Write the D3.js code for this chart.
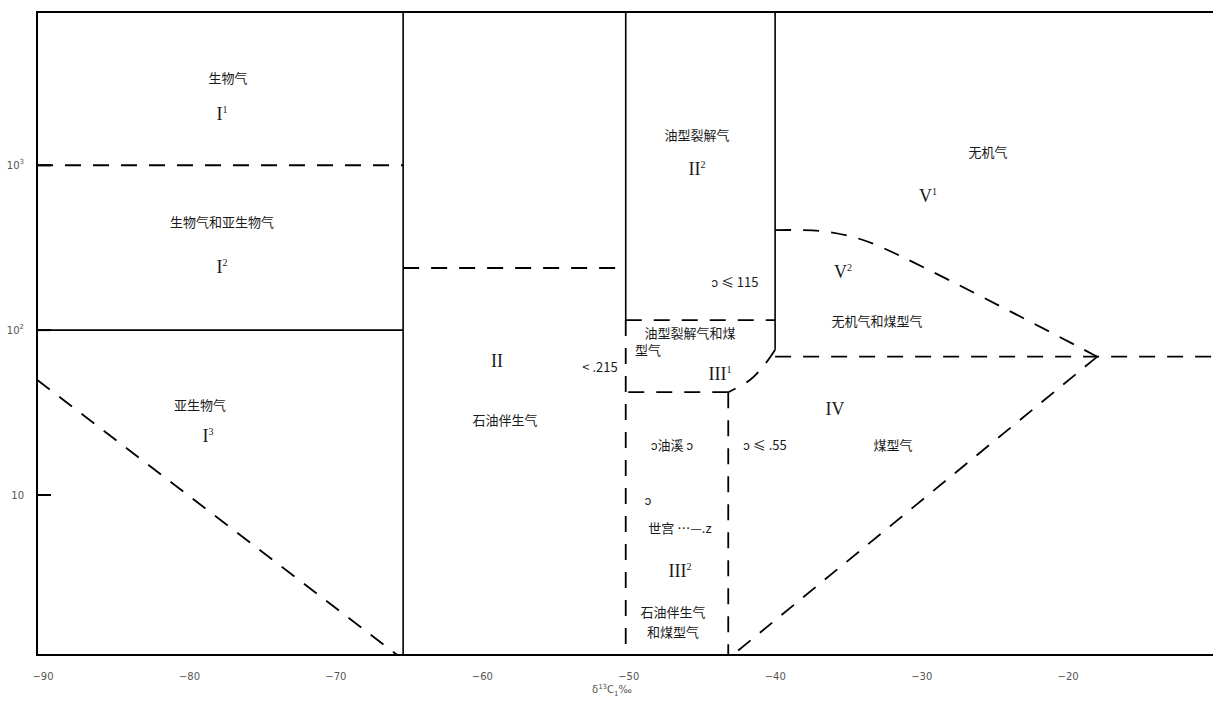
<!DOCTYPE html>
<html>
<head>
<meta charset="utf-8">
<script src="https://cdn.jsdelivr.net/npm/d3@7"></script>
<style>
  body { margin: 0; background: #fff; }
  svg text { fill: #1a1a1a; }
  .cjk { font-family: "Noto Sans CJK SC", sans-serif; font-size: 13px; }
  .roman { font-family: "Liberation Serif", "DejaVu Serif", serif; font-size: 18px; }
  .tick { font-family: "DejaVu Sans", sans-serif; font-size: 10px; fill: #555; }
</style>
</head>
<body>
<div id="graphic"></div>
<script>
// Axis ticks
var xTicks = [-90, -80, -70, -60, -50, -40, -30, -20];
var xTickLabels = ['−90', '−80', '−70', '−60', '−50', '−40', '−30', '−20'];
var yTicks = [1000, 100, 10];
var yTickBase = ['10', '10', '10'];
var yTickExp = ['3', '2', ''];

// Boundary lines [d13C1, C1/(C2+C3)]
var bioTop = [[-90, 1000], [-65, 1000]];
var bioMid = [[-90, 100], [-65, 100]];
var bioDiag = [[-90, 50], [-65.4, 1.07]];
var lineMinus65 = [[-65, 8500], [-65, 1.07]];
var oilAssoc = [[-65, 238], [-49.8, 238]];
var lineMinus50Top = [[-49.8, 8500], [-49.8, 115]];
var lineMinus50Low = [[-49.8, 115], [-49.8, 1.07]];
var crackLow = [[-49.8, 115], [-39.6, 115]];
var lineMinus40 = [[-39.6, 8500], [-39.6, 76]];
var mixCorner = [[-39.6, 76], [-40.3, 62], [-41.3, 50], [-42.8, 42]];
var mixBottom = [[-42.8, 42], [-49.8, 42]];
var mixRight = [[-42.8, 42], [-42.8, 1.07]];
var inorgCurve = [[-39.6, 404], [-36.6, 400], [-34.5, 371], [-32.5, 323], [-17.6, 69]];
var inorgFlat = [[-39.6, 69], [-9.7, 69]];
var coalDiag = [[-17.6, 69], [-42.5, 1.07]];

var solidLines = [bioMid, lineMinus65, lineMinus50Top, lineMinus40];
var dashedLines = [bioTop, bioDiag, oilAssoc, lineMinus50Low, crackLow,
  mixCorner, mixBottom, mixRight, inorgCurve, inorgFlat, coalDiag];

// Region labels [x, y, text, superscript, class]
var regionLabels = [
  [-76.96, 3375, '生物气', '', 'cjk'],
  [-77.37, 2014, 'I', '1', 'roman'],
  [-77.37, 452, '生物气和亚生物气', '', 'cjk'],
  [-77.37, 238, 'I', '2', 'roman'],
  [-78.87, 35, '亚生物气', '', 'cjk'],
  [-78.33, 22.4, 'I', '3', 'roman'],
  [-58.59, 64, 'II', '', 'roman'],
  [-58.05, 28.5, '石油伴生气', '', 'cjk'],
  [-51.56, 59.7, '< .215', '', 'cjk'],
  [-44.93, 1524, '油型裂解气', '', 'cjk'],
  [-44.93, 935, 'II', '2', 'roman'],
  [-42.34, 195, 'ɔ ≤ 115', '', 'cjk'],
  [-45.41, 96, '油型裂解气和煤', '', 'cjk'],
  [-48.28, 75.7, '型气', '', 'cjk'],
  [-43.36, 53.4, 'III', '1', 'roman'],
  [-46.64, 20.1, 'ɔ油溪 ɔ', '', 'cjk'],
  [-40.29, 20.1, 'ɔ ≤ .55', '', 'cjk'],
  [-48.28, 9.3, 'ɔ', '', 'cjk'],
  [-46.1, 6.3, '世宫 ⋯—.z', '', 'cjk'],
  [-46.1, 3.41, 'III', '2', 'roman'],
  [-46.57, 1.95, '石油伴生气', '', 'cjk'],
  [-46.57, 1.47, '和煤型气', '', 'cjk'],
  [-25.06, 1202, '无机气', '', 'cjk'],
  [-29.16, 641, 'V', '1', 'roman'],
  [-34.96, 222, 'V', '2', 'roman'],
  [-32.64, 113.5, '无机气和煤型气', '', 'cjk'],
  [-35.51, 32.7, 'IV', '', 'roman'],
  [-31.55, 20.1, '煤型气', '', 'cjk']
];

var render = function () {
  var width = 1213;
  var height = 701;

  var x = d3.scaleLinear().domain([-90, -9.7]).range([37, 1213]);
  var y = d3.scaleLog().domain([1.07, 8500]).range([655, 12]);

  var svg = d3.select('#graphic').append('svg')
    .attr('width', width)
    .attr('height', height);

  var line = d3.line()
    .x(function (d) { return x(d[0]); })
    .y(function (d) { return y(d[1]); });
  var curve = d3.line()
    .curve(d3.curveCatmullRom)
    .x(function (d) { return x(d[0]); })
    .y(function (d) { return y(d[1]); });

  // Frame
  svg.append('path')
    .attr('d', 'M' + x(-9.7) + ',' + y(8500) + 'H' + x(-90) + 'V' + y(1.07) + 'H' + x(-9.7))
    .attr('fill', 'none')
    .attr('stroke', '#000')
    .attr('stroke-width', 2);

  // Y ticks (inward)
  svg.selectAll('.ytick')
    .data(yTicks)
    .enter().append('line')
    .attr('x1', x(-90))
    .attr('x2', x(-90) + 14)
    .attr('y1', function (d) { return y(d); })
    .attr('y2', function (d) { return y(d); })
    .attr('stroke', '#000')
    .attr('stroke-width', 2);

  var yl = svg.selectAll('.ylab')
    .data(yTicks)
    .enter().append('text')
    .attr('class', 'tick')
    .attr('x', 24)
    .attr('y', function (d) { return y(d) + 4; })
    .attr('text-anchor', 'end');
  yl.append('tspan').text(function (d, i) { return yTickBase[i]; });
  yl.append('tspan')
    .attr('dy', -5)
    .style('font-size', '7px')
    .text(function (d, i) { return yTickExp[i]; });

  // X tick labels
  svg.selectAll('.xlab')
    .data(xTicks)
    .enter().append('text')
    .attr('class', 'tick')
    .attr('x', function (d) { return x(d) + 6; })
    .attr('y', 680)
    .attr('text-anchor', 'middle')
    .text(function (d, i) { return xTickLabels[i]; });

  var ax = svg.append('text')
    .attr('class', 'tick')
    .attr('x', x(-50.74))
    .attr('y', 693)
    .attr('text-anchor', 'middle');
  ax.append('tspan').text('δ');
  ax.append('tspan').attr('dy', -4).style('font-size', '7px').text('13');
  ax.append('tspan').attr('dy', 4).text('C');
  ax.append('tspan').attr('dy', 3).style('font-size', '7px').text('1');
  ax.append('tspan').attr('dy', -3).text('‰');

  // Boundaries
  svg.selectAll('.solid')
    .data(solidLines)
    .enter().append('path')
    .attr('d', line)
    .attr('fill', 'none')
    .attr('stroke', '#000')
    .attr('stroke-width', 1.6);

  svg.selectAll('.dashed')
    .data(dashedLines)
    .enter().append('path')
    .attr('d', function (d) { return d.length > 2 ? curve(d) : line(d); })
    .attr('fill', 'none')
    .attr('stroke', '#000')
    .attr('stroke-width', 1.8)
    .attr('stroke-dasharray', '16,12');

  // Region labels
  var labels = svg.selectAll('.region')
    .data(regionLabels)
    .enter().append('text')
    .attr('class', function (d) { return d[4]; })
    .attr('x', function (d) { return x(d[0]); })
    .attr('y', function (d) { return y(d[1]) + 5; })
    .attr('text-anchor', 'middle');
  labels.append('tspan').text(function (d) { return d[2]; });
  labels.append('tspan')
    .attr('dy', -7)
    .style('font-size', '10px')
    .text(function (d) { return d[3]; });
};

window.onload = render;
</script>
</body>
</html>
